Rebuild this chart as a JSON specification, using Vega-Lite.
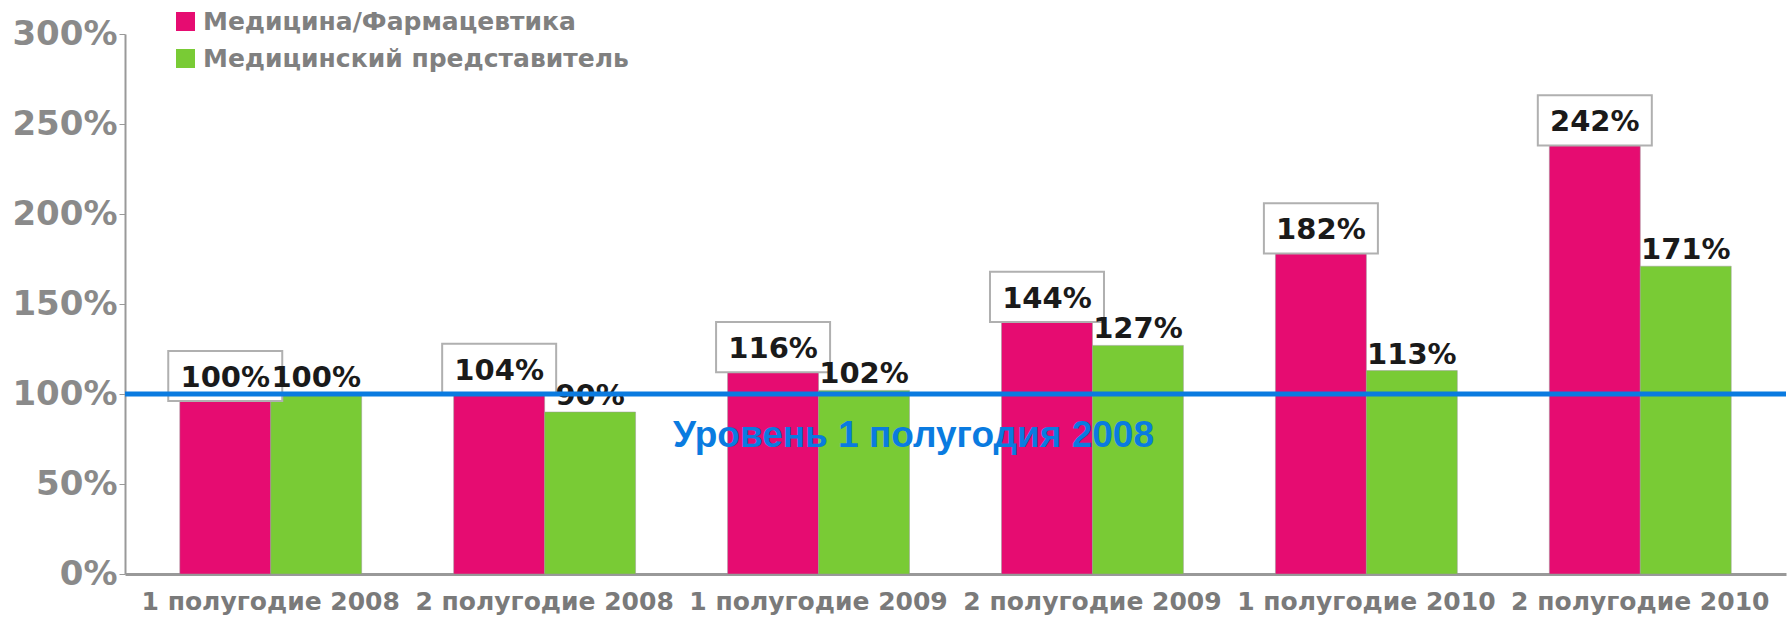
{
  "$schema": "https://vega.github.io/schema/vega-lite/v6.json",
  "width": 1661,
  "height": 540,
  "autosize": "none",
  "padding": {"left": 125, "top": 34, "right": 3, "bottom": 46},
  "background": "white",
  "config": {"view": {"stroke": null}, "font": "DejaVu Sans"},
  "data": {
    "values": [
      {"period": "1 полугодие 2008", "series": "Медицина/Фармацевтика", "value": 100, "label": "100%"},
      {"period": "1 полугодие 2008", "series": "Медицинский представитель", "value": 100, "label": "100%"},
      {"period": "2 полугодие 2008", "series": "Медицина/Фармацевтика", "value": 104, "label": "104%"},
      {"period": "2 полугодие 2008", "series": "Медицинский представитель", "value": 90, "label": "90%"},
      {"period": "1 полугодие 2009", "series": "Медицина/Фармацевтика", "value": 116, "label": "116%"},
      {"period": "1 полугодие 2009", "series": "Медицинский представитель", "value": 102, "label": "102%"},
      {"period": "2 полугодие 2009", "series": "Медицина/Фармацевтика", "value": 144, "label": "144%"},
      {"period": "2 полугодие 2009", "series": "Медицинский представитель", "value": 127, "label": "127%"},
      {"period": "1 полугодие 2010", "series": "Медицина/Фармацевтика", "value": 182, "label": "182%"},
      {"period": "1 полугодие 2010", "series": "Медицинский представитель", "value": 113, "label": "113%"},
      {"period": "2 полугодие 2010", "series": "Медицина/Фармацевтика", "value": 242, "label": "242%"},
      {"period": "2 полугодие 2010", "series": "Медицинский представитель", "value": 171, "label": "171%"}
    ]
  },
  "layer": [
    {
      "mark": {"type": "bar", "stroke": "#999999", "strokeWidth": 1, "strokeOpacity": 0.5},
      "encoding": {
        "x": {"field": "period", "type": "nominal", "sort": null,
          "scale": {"paddingInner": 0.336, "paddingOuter": 0.2},
          "axis": {"title": null, "labelAngle": 0, "ticks": false, "domainColor": "#999999", "domainWidth": 3,
            "labelFont": "DejaVu Sans", "labelFontWeight": "bold", "labelFontSize": 25, "labelColor": "#7a7a7a",
            "labelPadding": 15, "labelLimit": 400}},
        "xOffset": {"field": "series", "type": "nominal", "sort": null,
          "scale": {"domain": ["Медицина/Фармацевтика", "Медицинский представитель"]}},
        "y": {"field": "value", "type": "quantitative", "scale": {"domain": [0, 300]},
          "axis": {"title": null, "values": [0, 50, 100, 150, 200, 250, 300], "labelExpr": "datum.value + '%'",
            "grid": false, "domainColor": "#999999", "domainWidth": 2, "tickColor": "#999999", "tickSize": 6,
            "labelFont": "DejaVu Sans", "labelFontSize": 34, "labelFontWeight": "bold", "labelColor": "#8a8a8a",
            "labelPadding": 2}},
        "color": {"field": "series", "type": "nominal",
          "scale": {"domain": ["Медицина/Фармацевтика", "Медицинский представитель"], "range": ["#E60C71", "#79CB35"]},
          "legend": {"title": null, "orient": "none", "legendX": 48, "legendY": -25, "symbolType": "square",
            "symbolSize": 361, "symbolStrokeWidth": 0, "labelFont": "DejaVu Sans", "labelFontSize": 25,
            "labelFontWeight": "bold", "labelColor": "#808080", "rowPadding": 11, "labelOffset": 5, "labelLimit": 600}}
      }
    },
    {
      "transform": [{"filter": "datum.series === 'Медицина/Фармацевтика'"}],
      "mark": {"type": "point", "shape": "M-1,-0.44H1V0.44H-1Z", "size": 12996, "filled": true, "fill": "white",
        "stroke": "#b0b0b0", "strokeWidth": 2, "opacity": 1, "yOffset": -18},
      "encoding": {
        "x": {"field": "period", "type": "nominal", "sort": null},
        "xOffset": {"field": "series", "type": "nominal", "sort": null},
        "y": {"field": "value", "type": "quantitative"}
      }
    },
    {
      "mark": {"type": "text", "dy": -16, "font": "DejaVu Sans", "fontWeight": "bold", "fontSize": 29, "color": "#1a1a1a", "baseline": "middle"},
      "encoding": {
        "x": {"field": "period", "type": "nominal", "sort": null},
        "xOffset": {"field": "series", "type": "nominal", "sort": null},
        "y": {"field": "value", "type": "quantitative"},
        "text": {"field": "label"}
      }
    },
    {
      "data": {"values": [{"level": 100}]},
      "mark": {"type": "rule", "color": "#0A7BE0", "strokeWidth": 5},
      "encoding": {"y": {"field": "level", "type": "quantitative"}}
    },
    {
      "data": {"values": [{"level": 100, "period": "1 полугодие 2009", "note": "Уровень 1 полугодия 2008"}]},
      "mark": {"type": "text", "font": "Liberation Sans", "fontWeight": "bold", "fontSize": 37, "color": "#0A7BE0",
        "dx": 95, "dy": 42, "baseline": "middle", "align": "center"},
      "encoding": {
        "x": {"field": "period", "type": "nominal", "sort": null},
        "y": {"field": "level", "type": "quantitative"},
        "text": {"field": "note"}
      }
    }
  ]
}
